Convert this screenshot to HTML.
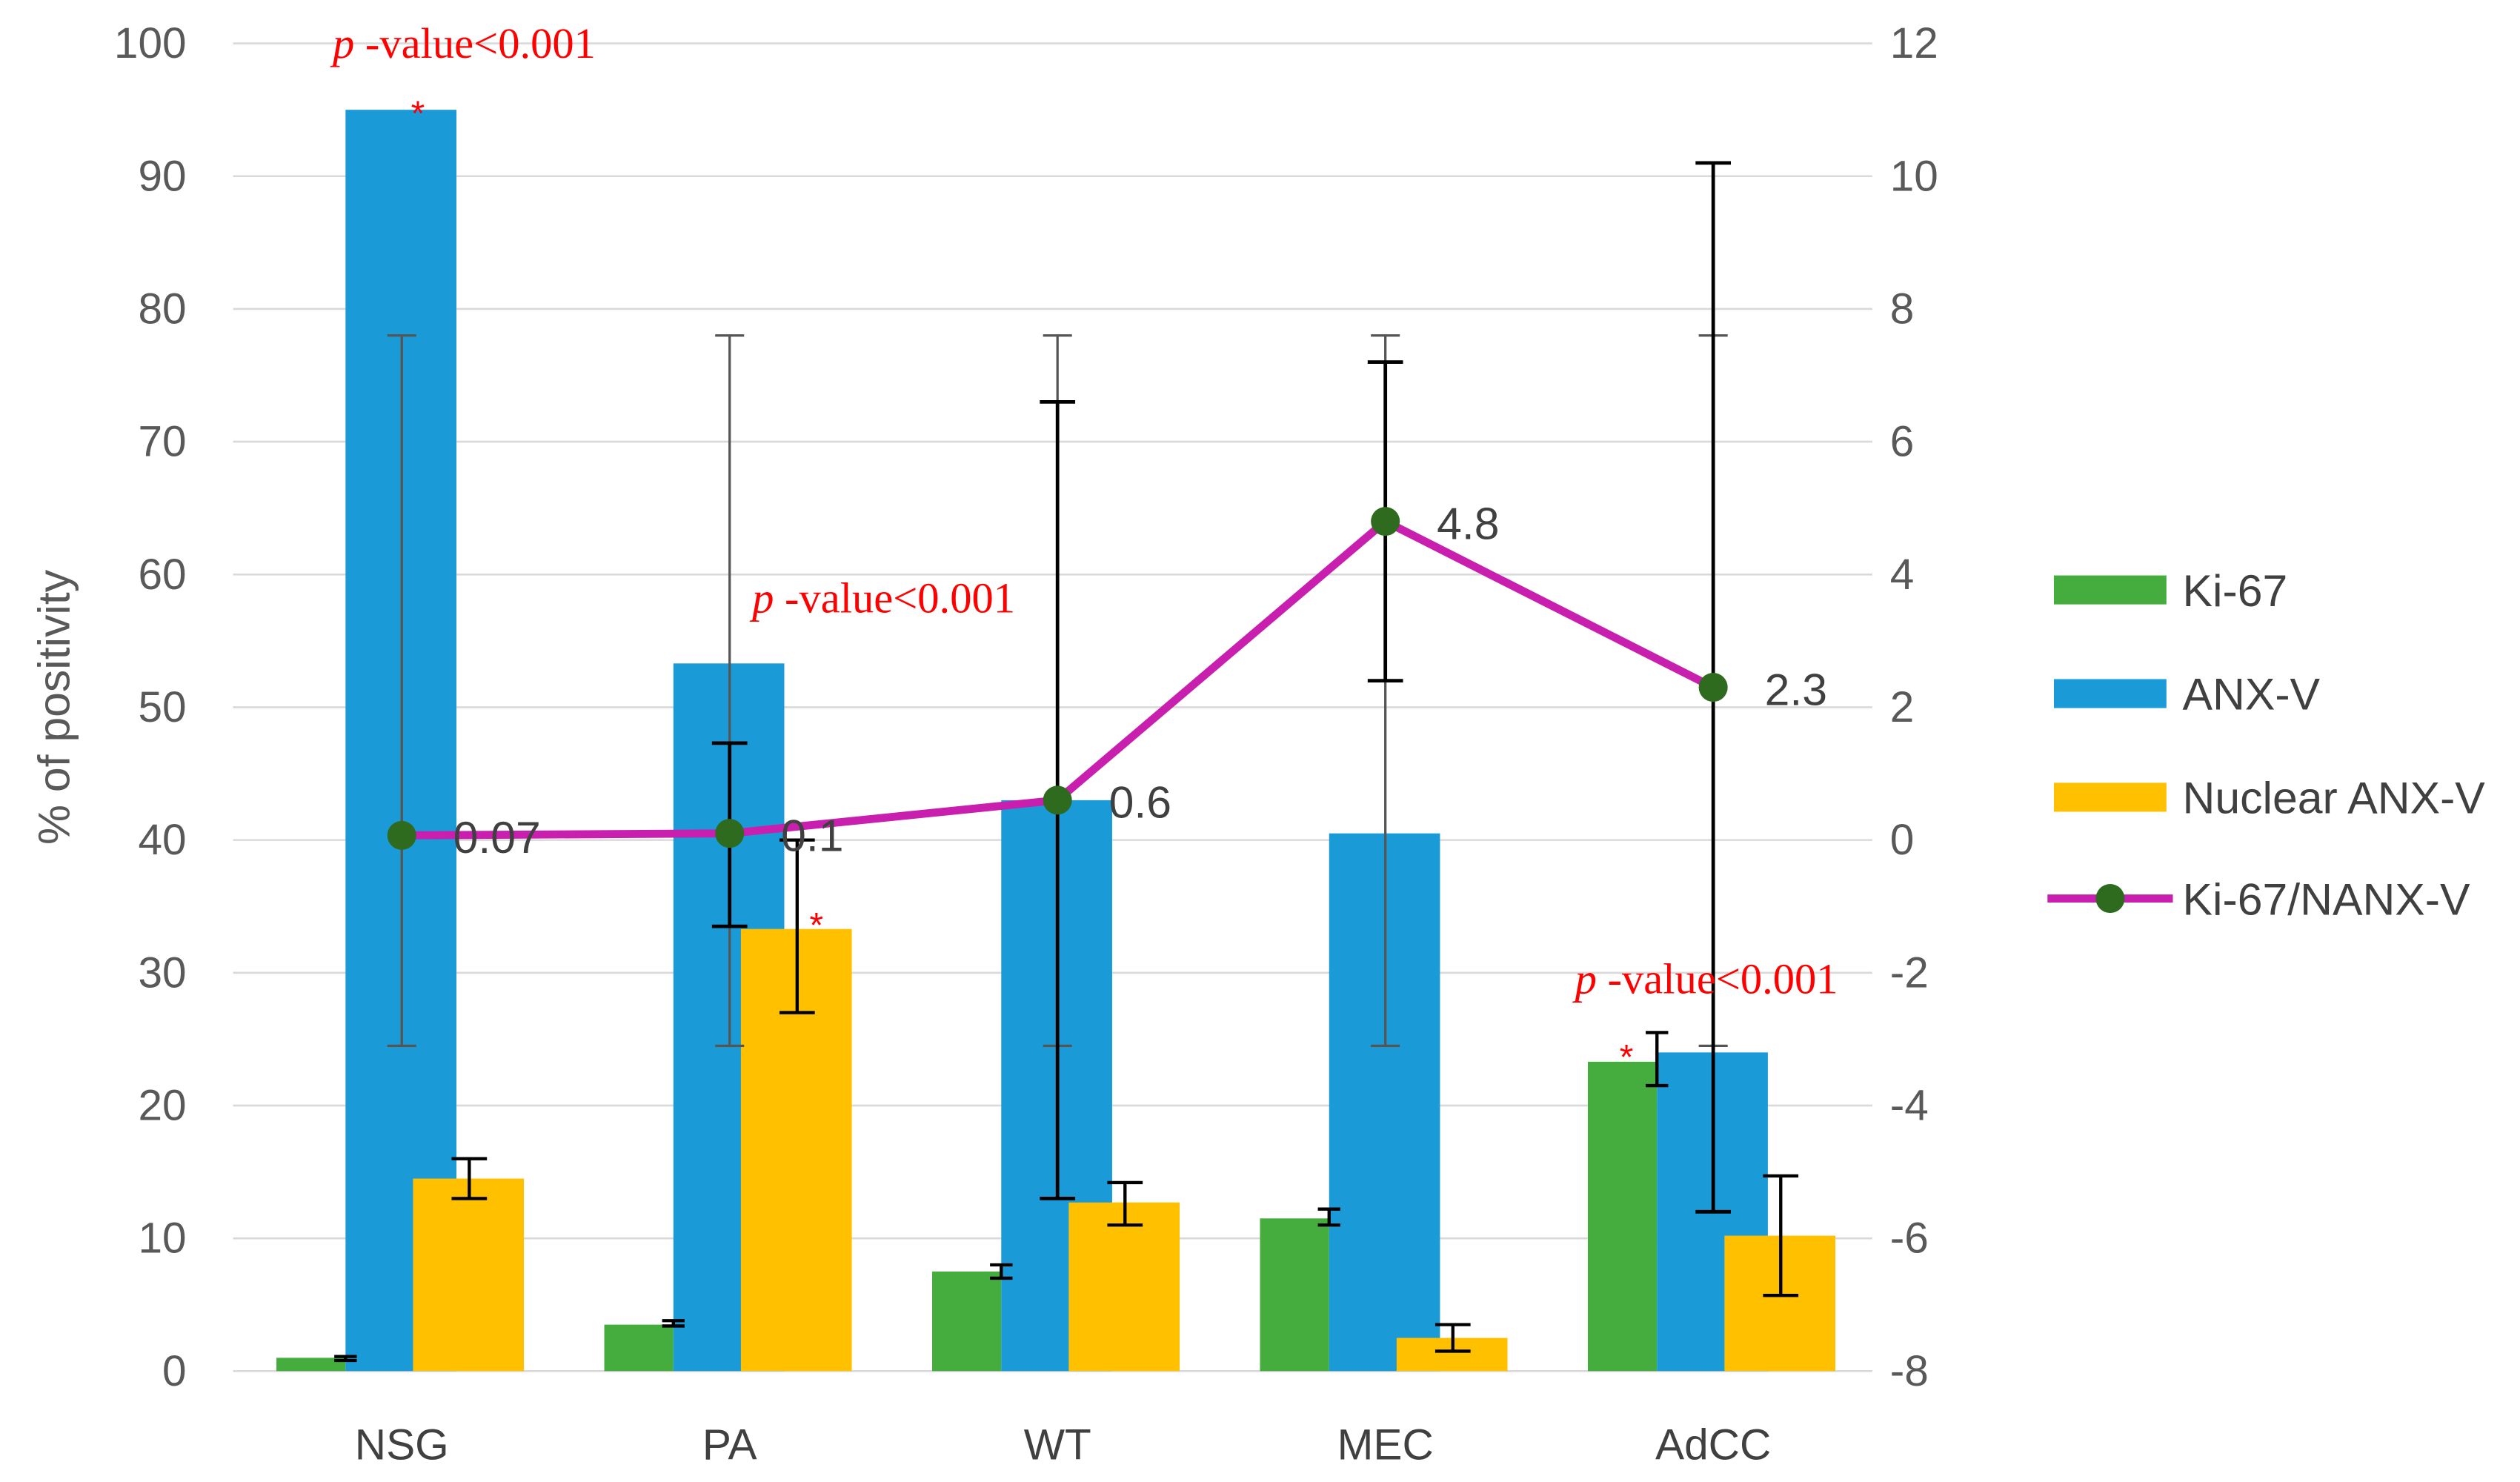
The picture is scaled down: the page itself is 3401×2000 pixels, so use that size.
<!DOCTYPE html>
<html><head><meta charset="utf-8"><style>
html,body{margin:0;padding:0;background:#fff}
svg{display:block}
text{font-family:"Liberation Sans",sans-serif}
</style></head><body>
<svg id="chart" width="3401" height="2000" viewBox="0 0 1568 922" preserveAspectRatio="none" xmlns="http://www.w3.org/2000/svg"></svg>
<script>
const categories=["NSG","PA","WT","MEC","AdCC"];
const ki67=[1,3.5,7.5,11.5,23.3];
const ki67Lo=[0.8,3.4,7,11,21.5];
const ki67Hi=[1.1,3.8,8,12.2,25.5];
const anx=[95,53.3,43,40.5,24];
const anxLo=[24.5,24.5,24.5,24.5,24.5];
const anxHi=[78,78,78,78,78];
const nanx=[14.5,33.3,12.7,2.5,10.2];
const nanxLo=[13,27,11,1.5,5.7];
const nanxHi=[16,40,14.2,3.5,14.7];
const ratio=[0.07,0.1,0.6,4.8,2.3];
const ratioLabels=["0.07","0.1","0.6","4.8","2.3"];
const ratioLo=[null,-1.3,-5.4,2.4,-5.6];
const ratioHi=[null,1.46,6.6,7.2,10.2];
const leftTicks=[0,10,20,30,40,50,60,70,80,90,100];
const rightTicks=[-8,-6,-4,-2,0,2,4,6,8,10,12];

const svg=document.getElementById('chart');
const NS="http://www.w3.org/2000/svg";
const X0=145,X1=1165,Y0=853,Y1=27;
const yL=v=>Y0-(v/100)*(Y0-Y1);
const yR=v=>Y0-((v+8)/20)*(Y0-Y1);
const xC=i=>250+i*204;
function mk(tag,attrs,txt){const e=document.createElementNS(NS,tag);for(const k in attrs)e.setAttribute(k,attrs[k]);if(txt!==undefined)e.textContent=txt;svg.appendChild(e);return e;}

leftTicks.forEach(t=>{
 const g=mk('line',{x1:X0,x2:X1,y1:yL(t),y2:yL(t),stroke:'#d9d9d9','stroke-width':1.2});
 
 
 const l=mk('text',{x:116,y:yL(t)+9,'text-anchor':'end','font-size':27,fill:'#595959'},String(t));
 
 
});
rightTicks.forEach(t=>{
 const l=mk('text',{x:1176,y:yR(t)+9,'font-size':27,fill:'#595959'},String(t));
 
 
});
const yt=mk('text',{x:0,y:0,transform:'translate(43,440) rotate(-90)','text-anchor':'middle','font-size':28,fill:'#595959'},'% of positivity');



function errbar(x,lo,hi,col,w,cap){
 return mk('path',{d:`M${x-cap},${lo}H${x+cap}M${x},${lo}V${hi}M${x-cap},${hi}H${x+cap}`,stroke:col,'stroke-width':w,fill:'none'});
}
categories.forEach((c,i)=>{
 const x=xC(i);
 const b1=mk('rect',{x:x-78,y:yL(ki67[i]),width:43,height:Y0-yL(ki67[i]),fill:'#44ad3e'});
 
 
 const b2=mk('rect',{x:x-35,y:yL(anx[i]),width:69,height:Y0-yL(anx[i]),fill:'#1b9ad8'});
 
 
 const b3=mk('rect',{x:x+7,y:yL(nanx[i]),width:69,height:Y0-yL(nanx[i]),fill:'#ffc000'});
 
 
 const e1=errbar(x-35,yL(ki67Lo[i]),yL(ki67Hi[i]),'#000',2,7);
 
 
 const e3=errbar(x+42,yL(nanxLo[i]),yL(nanxHi[i]),'#000',2,11);
 
 
 const e2=errbar(x,yL(anxLo[i]),yL(anxHi[i]),'#555',1.5,9);
 
 
 const cl=mk('text',{x:x,y:908,'text-anchor':'middle','font-size':27,fill:'#404040'},c);
 
 
});
const pl=mk('polyline',{points:ratio.map((v,i)=>xC(i)+','+yR(v)).join(' '),fill:'none',stroke:'#c81fae','stroke-width':5,'stroke-linejoin':'round'});


ratio.forEach((v,i)=>{
 if(ratioLo[i]!==null){
  const e=errbar(xC(i),yR(ratioLo[i]),yR(ratioHi[i]),'#000',2.2,11);
  
  
 }
 const d=mk('circle',{cx:xC(i),cy:yR(v),r:9,fill:'#2e6b1e'});
 
 
 const t=mk('text',{x:xC(i)+32,y:yR(v)+11,'font-size':28,fill:'#404040'},ratioLabels[i]);
 
 
});
[[207,36],[468,381],[980,618]].forEach(p=>{
 const t=mk('text',{x:p[0],y:p[1],'font-size':27,fill:'#ff0000',style:'font-family:"Liberation Serif",serif'});
 t.innerHTML='<tspan font-style="italic">p</tspan> -value&lt;0.001';
 
 
});
[[260,78],[508,583],[1012,665]].forEach(p=>{
 const t=mk('text',{x:p[0],y:p[1],'font-size':22,fill:'#ff0000','text-anchor':'middle'},'*');
 
 
});
const leg=[["Ki-67","#44ad3e"],["ANX-V","#1b9ad8"],["Nuclear ANX-V","#ffc000"]];
leg.forEach((l,i)=>{
 const y=367+i*64.5;
 const r=mk('rect',{x:1278,y:y-9,width:70,height:18,fill:l[1]});
 
 
 const t=mk('text',{x:1358,y:y+10,'font-size':28,fill:'#404040'},l[0]);
 
 
});
const ll=mk('line',{x1:1274,x2:1352,y1:559,y2:559,stroke:'#c81fae','stroke-width':5});


const lc=mk('circle',{cx:1313,cy:559,r:9,fill:'#2e6b1e'});


const lt=mk('text',{x:1358,y:569,'font-size':28,fill:'#404040'},'Ki-67/NANX-V');


</script>
</body></html>
